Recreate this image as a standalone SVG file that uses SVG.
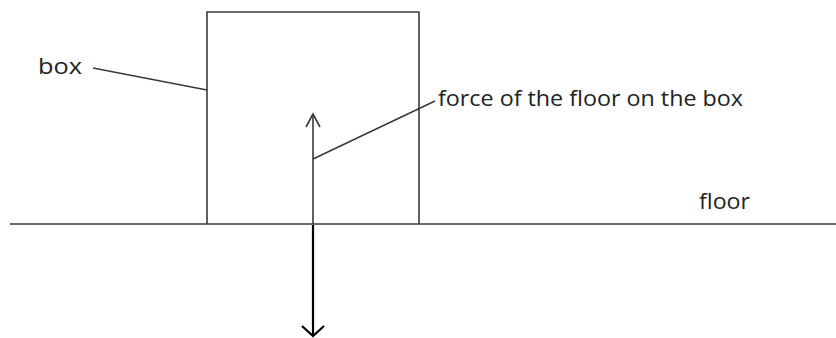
<svg xmlns="http://www.w3.org/2000/svg" width="836" height="338" viewBox="0 0 836 338">
<style>
.ln{stroke:#3a3a3a;stroke-width:1.6;fill:none}
.lbl{font-family:"Open Sans","Liberation Sans",sans-serif;font-size:22.5px;fill:#222}
</style>
<rect width="836" height="338" fill="#fff"/>
<g id="floor">
<line class="ln" x1="10" y1="224" x2="836" y2="224"/>
<text class="lbl" x="699" y="209" textLength="51" lengthAdjust="spacingAndGlyphs">floor</text>
</g>
<g id="box">
<polyline class="ln" points="207,224 207,12 419,12 419,224"/>
<text class="lbl" x="38" y="74" textLength="44" lengthAdjust="spacingAndGlyphs">box</text>
</g>
<g id="force-label">
<text class="lbl" x="438" y="106" textLength="305" lengthAdjust="spacingAndGlyphs">force of the floor on the box</text>
</g>
<g id="connectors">
<line class="ln" x1="93" y1="68" x2="207" y2="90"/>
<line class="ln" x1="313" y1="159" x2="435" y2="101"/>
<line class="ln" x1="313" y1="224" x2="313" y2="114"/>
<polyline class="ln" points="306,127 313,114 320,127"/>
<line x1="313" y1="225" x2="313" y2="336" stroke="#000" stroke-width="2.2"/>
<polyline points="302,326 313,336 324,326" fill="none" stroke="#000" stroke-width="2.2"/>
</g>
</svg>
